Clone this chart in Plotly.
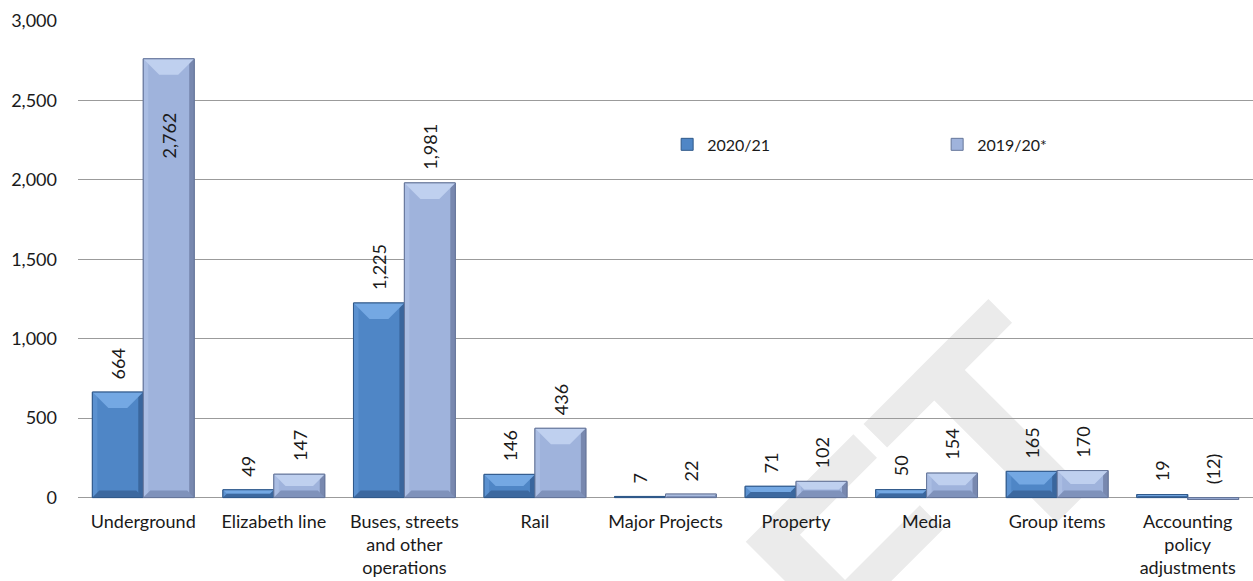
import plotly.graph_objects as go

# ---- data -------------------------------------------------------------
categories = [
    "Underground",
    "Elizabeth line",
    "Buses, streets<br>and other<br>operations",
    "Rail",
    "Major Projects",
    "Property",
    "Media",
    "Group items",
    "Accounting<br>policy<br>adjustments",
]
values_2020_21 = [664, 49, 1225, 146, 7, 71, 50, 165, 19]
values_2019_20 = [2762, 147, 1981, 436, 22, 102, 154, 170, -12]
series_names = ["2020/21", "2019/20*"]

y_tickvals = [-500, 0, 500, 1000, 1500, 2000, 2500, 3000]
y_ticktext = ["(500)", "0", "500", "1,000", "1,500", "2,000", "2,500", "3,000"]

# ---- styling ----------------------------------------------------------
FONT = "Lato, 'Open Sans', sans-serif"
TXT = "#1a1a1a"
W, H = 1253, 581
MARGIN = dict(l=78, r=0, t=21, b=4)
Y_RANGE = [-500, 3000]
X_RANGE = [-0.5, len(categories) - 0.5]
BARGAP = 0.22
BAR_W = (1 - BARGAP) / 2

plot_w = W - MARGIN["l"] - MARGIN["r"]
plot_h = H - MARGIN["t"] - MARGIN["b"]
UX = (X_RANGE[1] - X_RANGE[0]) / plot_w      # x units per pixel
UY = (Y_RANGE[1] - Y_RANGE[0]) / plot_h      # y units per pixel

palettes = [
    dict(face="#4f86c6", top="#74a8e3", left="#5b91d0", right="#3a669d",
         bottom="#3c689f", edge="#30598a"),
    dict(face="#9fb3dc", top="#bfd0ef", left="#aabde3", right="#7888af",
         bottom="#7f92bb", edge="#66769a"),
]


def fmt(v):
    return f"{v:,}" if v >= 0 else f"({abs(v):,})"


def poly(points, color):
    path = "M " + " L ".join(f"{x},{y}" for x, y in points) + " Z"
    return dict(type="path", path=path, xref="x", yref="y", layer="above",
                fillcolor=color, line=dict(width=0))


def bevel(xc, v, pal):
    """Bevelled-edge shading for one bar, in axis units."""
    shapes = []
    h_px = abs(v) / UY
    if h_px < 3:
        return shapes
    s = 1 if v >= 0 else -1
    xl, xr = xc - BAR_W / 2, xc + BAR_W / 2
    side = min(5, h_px / 2)
    tb = min(16, h_px / 2)
    bb = min(7, h_px / 2)
    # side strips
    shapes.append(poly([(xl, 0), (xl + side * UX, 0), (xl + side * UX, v), (xl, v)], pal["left"]))
    shapes.append(poly([(xr - side * UX, 0), (xr, 0), (xr, v), (xr - side * UX, v)], pal["right"]))
    # top facet
    shapes.append(poly([(xl, v), (xr, v), (xr - tb * UX, v - s * tb * UY),
                        (xl + tb * UX, v - s * tb * UY)], pal["top"]))
    # bottom facet
    shapes.append(poly([(xl, 0), (xr, 0), (xr - bb * UX, s * bb * UY),
                        (xl + bb * UX, s * bb * UY)], pal["bottom"]))
    return shapes


# ---- figure -----------------------------------------------------------
x_idx = list(range(len(categories)))
all_values = [values_2020_21, values_2019_20]
offsets = [-BAR_W / 2, BAR_W / 2]

fig = go.Figure()
for name, vals, pal in zip(series_names, all_values, palettes):
    fig.add_trace(go.Bar(
        x=x_idx, y=vals, name=name,
        marker=dict(color=pal["face"], line=dict(color=pal["edge"], width=1)),
        hoverinfo="skip",
    ))

shapes = []
annotations = []
for vals, pal, off in zip(all_values, palettes, offsets):
    for i, v in enumerate(vals):
        xc = i + off
        shapes += bevel(xc, v, pal)
        shapes.append(dict(type="rect", xref="x", yref="y", layer="above",
                           x0=xc - BAR_W / 2, x1=xc + BAR_W / 2, y0=0, y1=v,
                           line=dict(color=pal["edge"], width=1)))
        inside = v > 2500
        annotations.append(dict(
            x=xc, y=max(v, 0), xref="x", yref="y", text=fmt(v),
            textangle=-90, showarrow=False,
            yanchor="top" if inside else "bottom",
            yshift=-52 if inside else 11,
            font=dict(family=FONT, size=18, color=TXT),
        ))

# faint "DRAFT" watermark behind the plot
wm_x, wm_y = 0.5157, -0.237
shapes.append(dict(
    type="rect", xref="paper", yref="paper", layer="below",
    x0=wm_x - 0.001, x1=wm_x + 0.001, y0=wm_y - 0.001, y1=wm_y + 0.001,
    line=dict(width=0), fillcolor="rgba(0,0,0,0)",
    label=dict(text="DRAFT", textangle=-45, textposition="middle center",
               font=dict(family="Liberation Sans", size=300, color="#ebebeb",
                         weight=700)),
))

fig.update_layout(
    width=W, height=H, autosize=False,
    margin=MARGIN,
    paper_bgcolor="white", plot_bgcolor="rgba(0,0,0,0)",
    barmode="group", bargap=BARGAP, bargroupgap=0,
    font=dict(family=FONT, size=18, color=TXT),
    showlegend=True,
    legend=dict(orientation="h", x=0.5014, y=0.778, xanchor="left",
                yanchor="middle", entrywidth=225, entrywidthmode="pixels",
                font=dict(family=FONT, size=16, color=TXT),
                bgcolor="rgba(0,0,0,0)", traceorder="normal"),
    shapes=shapes,
    annotations=annotations,
)
fig.update_yaxes(range=Y_RANGE, tickvals=y_tickvals, ticktext=y_ticktext,
                 showgrid=True, gridcolor="#9b9b9b", gridwidth=1,
                 zeroline=False, showline=False, ticks="",
                 ticklabelstandoff=20,
                 tickfont=dict(family=FONT, size=18, color=TXT))
fig.update_xaxes(range=X_RANGE, tickvals=x_idx, ticktext=categories,
                 showgrid=False, zeroline=False, showline=False, ticks="",
                 anchor="free", position=(0 - Y_RANGE[0]) / (Y_RANGE[1] - Y_RANGE[0]),
                 ticklabelstandoff=11,
                 tickfont=dict(family=FONT, size=18, color=TXT))

fig.write_html("out.html")
